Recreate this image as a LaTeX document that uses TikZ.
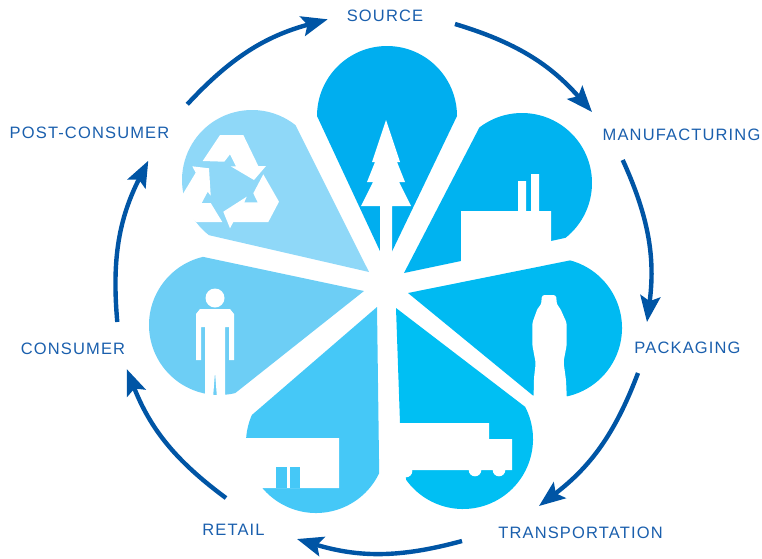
\documentclass[tikz,border=0pt]{standalone}
\usepackage{fontspec}
\setmainfont{Liberation Sans}[LetterSpace=7]
\usetikzlibrary{arrows.meta}
\definecolor{cA}{HTML}{00AEEF}
\definecolor{cB}{HTML}{00B3F0}
\definecolor{cC}{HTML}{00BAF2}
\definecolor{cD}{HTML}{00BFF3}
\definecolor{cE}{HTML}{45C8F7}
\definecolor{cF}{HTML}{6DCEF5}
\definecolor{cG}{HTML}{8FD8F8}
\definecolor{arrowblue}{HTML}{0055A5}
\definecolor{textblue}{HTML}{1A5FAD}
\tikzset{
  label text/.style={text=textblue,font=\fontsize{16.5}{18}\selectfont,inner sep=0pt,anchor=base},
  cycle arrow/.style={draw=arrowblue,line width=4.4pt,bend right=16,-{Stealth[length=26pt,width=20pt,inset=5pt]}},
  icon/.style={fill=white,draw=none}
}
\begin{document}
\begin{tikzpicture}[x=1pt,y=1pt,yscale=-1]
\useasboundingbox (0,0) rectangle (762,558);
% petals
\fill[cA] (387,116) ++(180:70pt) arc[start angle=180,end angle=360,radius=70pt] -- (386,264) -- cycle;
\fill[cB] (522,183) ++(51.5:70pt) arc[start angle=51.5,end angle=-127.5,radius=70pt] -- (404,273) -- (461,261) -- cycle;
\fill[cC] (552,328) ++(-75:70pt) arc[start angle=-75,end angle=106,radius=70pt] -- (408,293) -- cycle;
\fill[cD] (463,439) ++(-27.3:70pt) arc[start angle=-27.3,end angle=144.3,radius=70pt] -- (400,423) -- (396,308) -- cycle;
\fill[cE] (316,443) ++(25.5:70pt) arc[start angle=25.5,end angle=203.6,radius=70pt] -- (377,307) -- cycle;
\fill[cF] (219,325) ++(256.8:70pt) arc[start angle=256.8,end angle=76.6,radius=70pt] -- (364,291) -- cycle;
\fill[cG] (252,180) ++(308.5:70pt) arc[start angle=308.5,end angle=128,radius=70pt] -- (369,272) -- cycle;
% tree
\fill[icon] (386,120) -- (400,162) -- (397,162) -- (405,182) -- (399,182) -- (411,206) -- (392,206) -- (392,268)
  -- (380,268) -- (380,206) -- (361,206) -- (373,182) -- (367,182) -- (375,162) -- (372,162) -- cycle;
% factory
\fill[icon] (461,263) -- (461,211) -- (518,211) -- (518,181) -- (526,181) -- (526,211) -- (531,211) -- (531,174)
  -- (539,174) -- (539,211) -- (551,211) -- (551,242) -- cycle;
% bottle
\fill[icon,rounded corners=2.5pt] (542,295) -- (556,295) -- (557,305) -- (560,308) -- (566.7,323) -- (566.7,345)
  -- (563.5,362) -- (566,380) -- (567,402) -- (533.5,402) -- (534,378) -- (535.7,363) -- (532.3,345) -- (532.3,323)
  -- (537.7,308) -- (541,305) -- cycle;
% truck
\fill[icon] (392,423) -- (489,423) -- (489,439) -- (512,439) -- (512,470) -- (392,470) -- cycle;
\fill[icon] (475,470) circle[radius=6.3pt];
\fill[icon] (499,470) circle[radius=6.3pt];
\fill[icon] (406,471) circle[radius=6.3pt];
% shop
\fill[icon] (240,438) -- (339,438) -- (339,488) -- (255,488) -- cycle;
\fill[cE] (276,467) rectangle (287,488);
\fill[cE] (290,467) rectangle (300,488);
% person
\fill[icon] (215,298) circle[radius=9.5pt];
\fill[icon] (200,309) -- (230,309) -- (234,314) -- (234,360) -- (229,360) -- (229,327) -- (225,327) -- (225,398)
  -- (217,398) -- (215,372) -- (213,398) -- (205,398) -- (205,327) -- (201,327) -- (201,360) -- (196,360) -- (196,314) -- cycle;
% recycling symbol
\fill[icon] (202.7,161) -- (220,135) -- (243.3,135) -- (258.3,166) -- (266,166) -- (254,180) -- (230.7,166.3)
  -- (236,166.3) -- (230,154.3) -- (224.3,161.7) -- cycle;
\fill[icon] (263.3,174.3) -- (279,201.7) -- (268.3,222) -- (233.3,222) -- (230,228.3) -- (223.3,211.7) -- (246.7,196.7)
  -- (244.3,202.3) -- (257.7,202.3) -- (253.3,193.3) -- cycle;
\fill[icon] (192.3,166.3) -- (209,168.3) -- (210.7,195.7) -- (207.7,191.7) -- (201.7,203) -- (210.7,203) -- (222.3,222)
  -- (196,222) -- (180,205) -- (183.3,193.3) -- (195.7,172.7) -- cycle;
% labels
\node[label text] (source) at (385,21) {SOURCE};
\node[label text] (manufacturing) at (681.5,140) {MANUFACTURING};
\node[label text] (packaging) at (687.5,353) {PACKAGING};
\node[label text] (transportation) at (580.5,538) {TRANSPORTATION};
\node[label text] (retail) at (233.5,535) {RETAIL};
\node[label text] (consumer) at (73,354) {CONSUMER};
\node[label text] (postconsumer) at (89.5,138) {POST-CONSUMER};
% arrows
\coordinate (a1s) at (455,24);   \coordinate (a1e) at (592,112);
\coordinate (a2s) at (622.7,160);  \coordinate (a2e) at (647,322);
\coordinate (a3s) at (638,373);  \coordinate (a3e) at (539,506);
\coordinate (a4s) at (462,541);  \coordinate (a4e) at (297,539);
\coordinate (a5s) at (226,498);  \coordinate (a5e) at (126.7,369);
\coordinate (a6s) at (117.3,322);  \coordinate (a6e) at (148.3,160.7);
\coordinate (a7s) at (187.3,104.3);  \coordinate (a7e) at (327.7,19.3);
\draw[cycle arrow] (a1s) to (a1e);
\draw[cycle arrow] (a2s) to (a2e);
\draw[cycle arrow] (a3s) to (a3e);
\draw[cycle arrow] (a4s) to (a4e);
\draw[cycle arrow] (a5s) to (a5e);
\draw[cycle arrow] (a6s) to (a6e);
\draw[cycle arrow] (a7s) to (a7e);
\end{tikzpicture}
\end{document}
